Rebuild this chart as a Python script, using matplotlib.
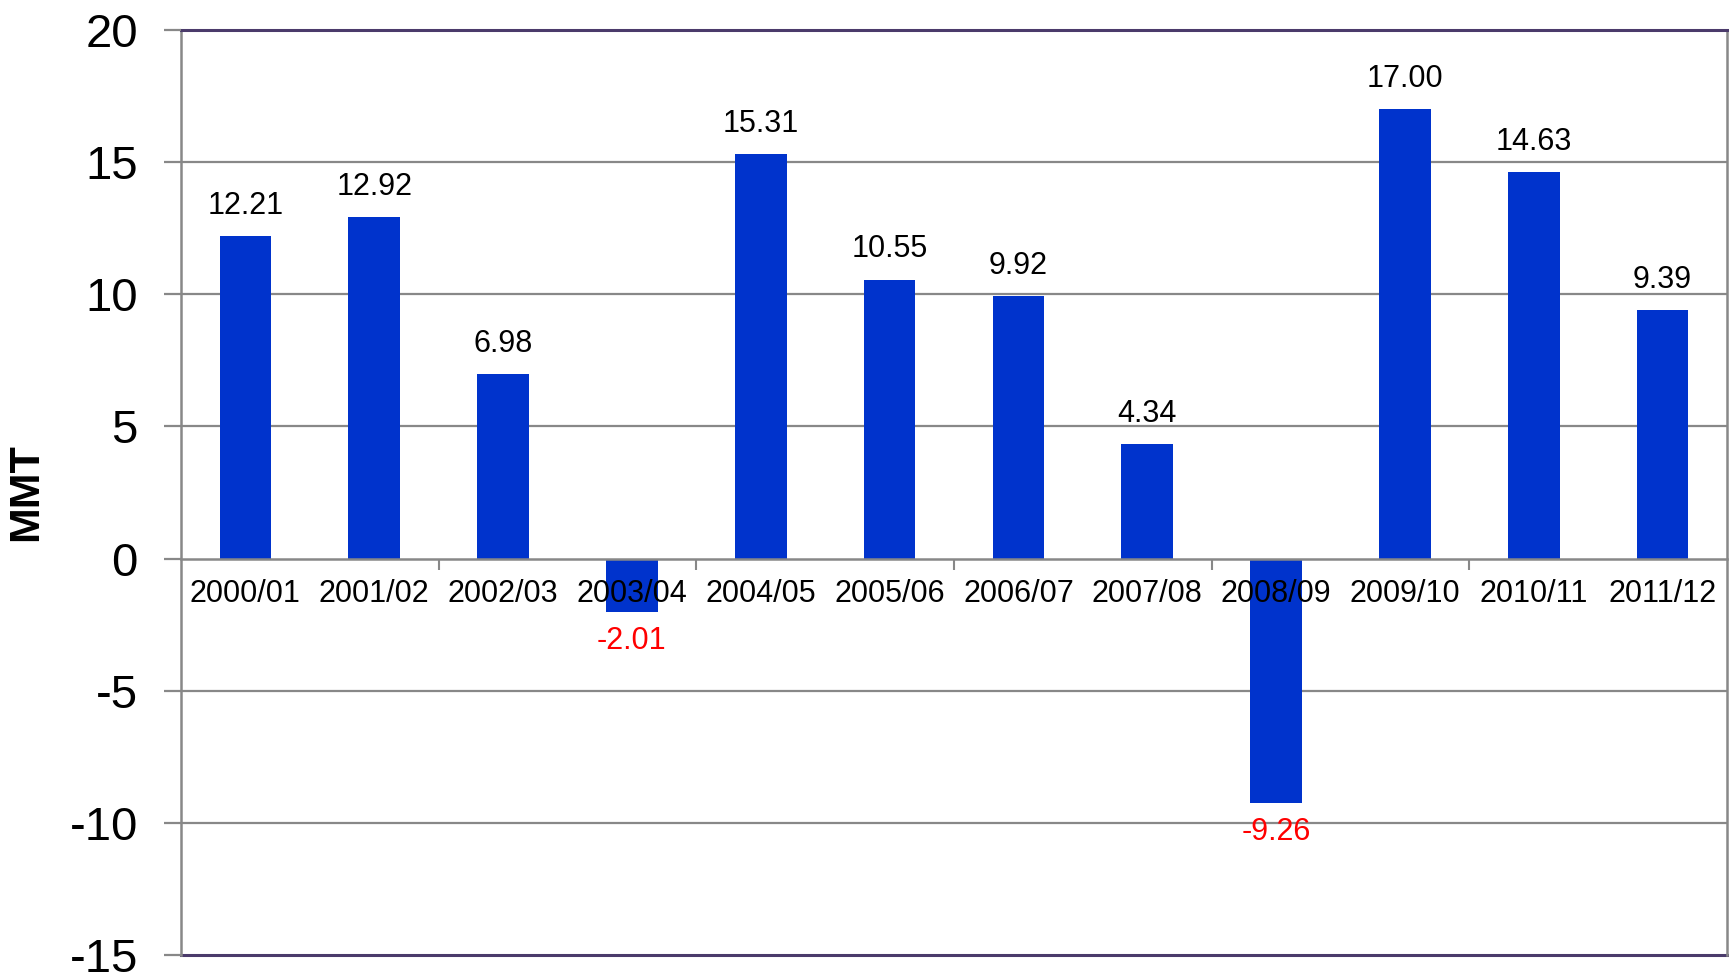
import numpy as np
import matplotlib
matplotlib.use('Agg')
import matplotlib.pyplot as plt
from matplotlib.ticker import FixedLocator

plt.rcParams['font.family'] = ['Liberation Sans', 'DejaVu Sans']

# data
seasons = ['2000/01', '2001/02', '2002/03', '2003/04', '2004/05', '2005/06',
           '2006/07', '2007/08', '2008/09', '2009/10', '2010/11', '2011/12']
values = [12.21, 12.92, 6.98, -2.01, 15.31, 10.55, 9.92, 4.34, -9.26, 17.00, 14.63, 9.39]
y_ticks = [-15, -10, -5, 0, 5, 10, 15, 20]

BAR = '#0033cc'
GRID = '#888888'
FRAME = '#4b3b6b'

fig = plt.figure(figsize=(17.29, 9.72), dpi=100)
ax = fig.add_axes([181 / 1729, 17 / 972, 1546 / 1729, 925 / 972])
ax.set_axisbelow(False)  # category labels sit on top of the negative bars

x = np.arange(len(seasons))
ax.bar(x, values, width=0.40, color=BAR, zorder=1.2)

ax.set_xlim(-0.5, len(seasons) - 0.5)
ax.set_ylim(-15, 20)

# gridlines
for v in y_ticks:
    if v not in (0, -15, 20):
        ax.axhline(v, color=GRID, lw=1.6, zorder=1)
ax.axhline(-15, color=FRAME, lw=2.2, zorder=2, clip_on=False)

# spines
ax.spines['top'].set_color(FRAME)
ax.spines['top'].set_linewidth(2.2)
ax.spines['left'].set_color(GRID)
ax.spines['left'].set_linewidth(1.8)
ax.spines['right'].set_color(GRID)
ax.spines['right'].set_linewidth(1.8)
ax.spines['bottom'].set_position(('data', 0))
ax.spines['bottom'].set_color(GRID)
ax.spines['bottom'].set_linewidth(1.8)
ax.spines['bottom'].set_zorder(4)

# x axis: labels at categories, small ticks at every other boundary
ax.set_xticks(x)
ax.set_xticklabels(seasons, fontsize=22)
ax.tick_params(axis='x', which='major', length=0, pad=15)
ax.xaxis.set_minor_locator(FixedLocator(np.arange(1.5, len(seasons) - 1, 2)))
ax.tick_params(axis='x', which='minor', length=8, width=1.5, color=GRID, direction='out')

# y axis
ax.set_yticks(y_ticks)
ax.set_yticklabels([str(v) for v in y_ticks], fontsize=34)
ax.tick_params(axis='y', length=12, width=1.6, color=GRID, pad=19)
ax.set_ylabel('MMT', fontsize=31, fontweight='bold')
ax.yaxis.set_label_coords(-0.087, 0.5)

# value labels
for xi, v in zip(x, values):
    if v >= 0:
        ax.annotate(f'{v:.2f}', (xi, v), xytext=(0, 11), textcoords='offset points',
                    ha='center', va='bottom', fontsize=22, color='black')
    else:
        ax.annotate(f'{v:.2f}', (xi, v), xytext=(0, -10), textcoords='offset points',
                    ha='center', va='top', fontsize=22, color='red')

fig.savefig('out.png', dpi=100)
